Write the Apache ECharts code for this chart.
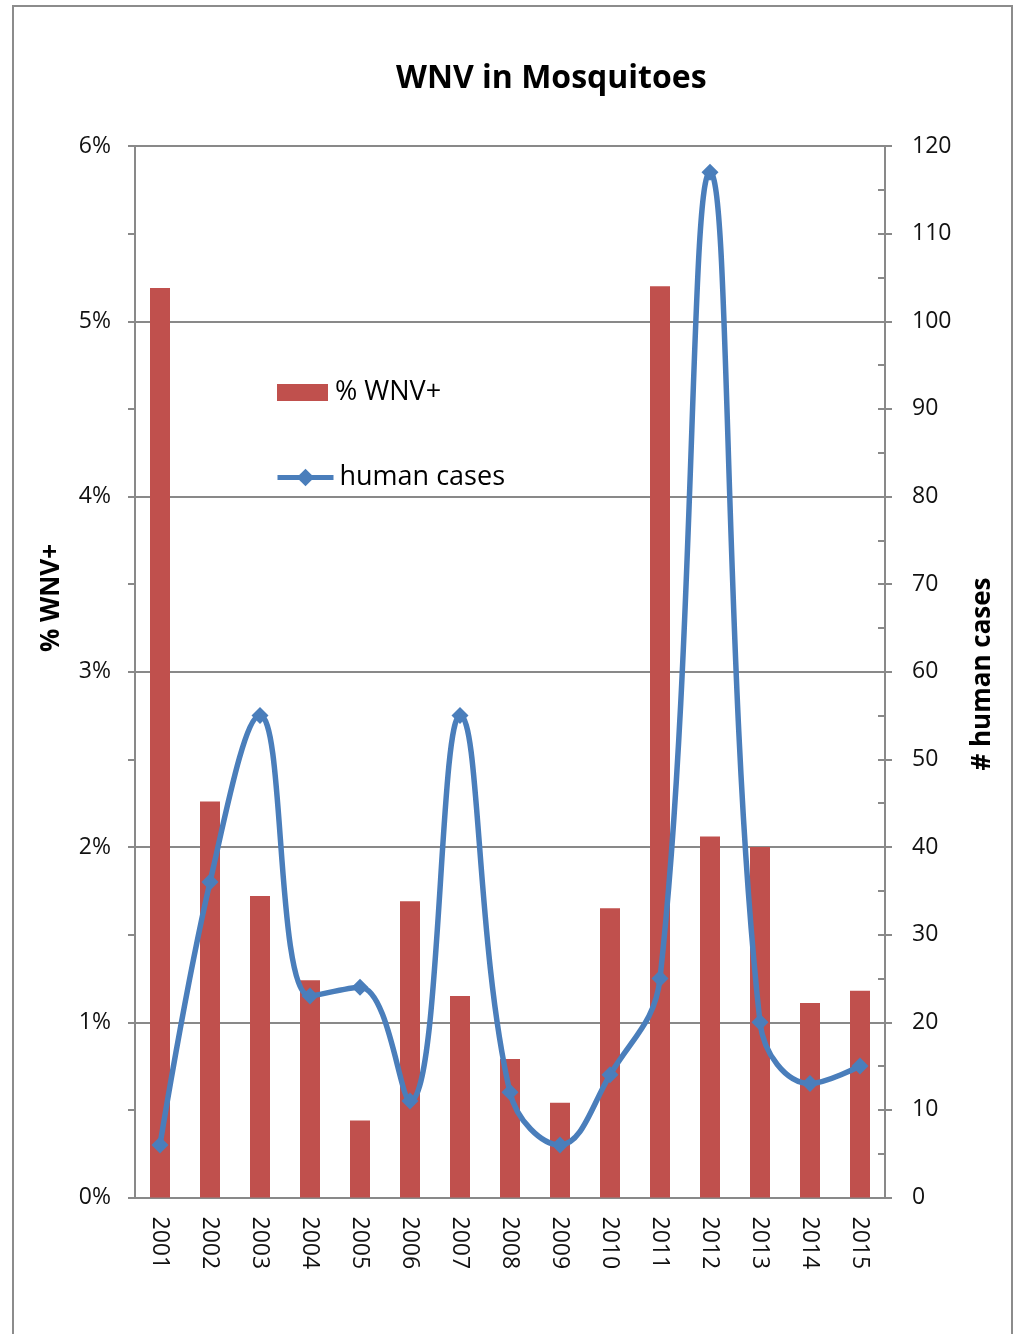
<!DOCTYPE html>
<html>
<head>
<meta charset="utf-8">
<title>WNV in Mosquitoes</title>
<script src="https://cdn.jsdelivr.net/npm/echarts@6/dist/echarts.min.js"></script>
<style>
  html, body { margin: 0; padding: 0; background: #ffffff; }
  #chart { width: 1019px; height: 1334px; }
</style>
</head>
<body>
<div id="chart"></div>
<script>
// Seasonal West Nile virus surveillance, 2001-2015
const years = ['2001', '2002', '2003', '2004', '2005', '2006', '2007', '2008',
               '2009', '2010', '2011', '2012', '2013', '2014', '2015'];
// Percent of mosquito pools testing positive
const pctPositive = [5.19, 2.26, 1.72, 1.24, 0.44, 1.69, 1.15, 0.79,
                     0.54, 1.65, 5.20, 2.06, 2.00, 1.11, 1.18];
// Reported human cases
const humanCases = [6, 36, 55, 23, 24, 11, 55, 12, 6, 14, 25, 117, 20, 13, 15];
// Axis ranges
const pctTicks = [0, 1, 2, 3, 4, 5, 6];
const caseTicks = [0, 10, 20, 30, 40, 50, 60, 70, 80, 90, 100, 110, 120];

const FONT = '"Open Sans", "Liberation Sans", sans-serif';
const AXIS_GRAY = '#898989';
const BAR_RED = '#c0504d';
const LINE_BLUE = '#4a7ebb';

const chart = echarts.init(document.getElementById('chart'), null, { renderer: 'canvas' });

chart.setOption({
  animation: false,
  backgroundColor: '#ffffff',
  textStyle: { fontFamily: FONT },
  title: {
    text: 'WNV in Mosquitoes',
    left: 396,
    top: 63,
    padding: 0,
    textStyle: { fontFamily: FONT, fontSize: 32, fontWeight: 'bold', color: '#000000' }
  },
  legend: [
    {
      data: [{ name: '% WNV+', icon: 'rect' }],
      orient: 'vertical',
      left: 277,
      top: 379,
      padding: 0,
      itemWidth: 51,
      itemHeight: 17,
      itemGap: 0,
      textStyle: { fontFamily: FONT, fontSize: 27, color: '#000000', padding: [0, 0, 0, 2] }
    },
    {
      data: ['human cases'],
      orient: 'vertical',
      left: 275,
      top: 464,
      padding: 0,
      itemWidth: 56,
      itemHeight: 22,
      itemGap: 0,
      lineStyle: { width: 5 },
      textStyle: { fontFamily: FONT, fontSize: 27, color: '#000000', padding: [0, 0, 0, 1] }
    }
  ],
  grid: { left: 135, right: 134, top: 146, bottom: 136.5, containLabel: false },
  xAxis: {
    type: 'category',
    data: years,
    axisLine: { show: true, lineStyle: { color: AXIS_GRAY, width: 2 } },
    axisTick: { show: false },
    axisLabel: { rotate: -90, margin: 19, fontFamily: FONT, fontSize: 23, color: '#111111' },
    splitLine: { show: false }
  },
  yAxis: [
    {
      type: 'value',
      position: 'left',
      min: pctTicks[0],
      max: pctTicks[pctTicks.length - 1],
      interval: 1,
      axisLine: { show: true, lineStyle: { color: AXIS_GRAY, width: 2 } },
      axisTick: { show: true, inside: false, length: 7, lineStyle: { color: AXIS_GRAY, width: 2 } },
      minorTick: { show: true, splitNumber: 2, length: 7, lineStyle: { color: AXIS_GRAY, width: 2 } },
      axisLabel: { margin: 24, fontFamily: FONT, fontSize: 23, color: '#111111', formatter: '{value}%' },
      splitLine: { show: true, lineStyle: { color: AXIS_GRAY, width: 2 } }
    },
    {
      type: 'value',
      position: 'right',
      min: caseTicks[0],
      max: caseTicks[caseTicks.length - 1],
      interval: 10,
      axisLine: { show: true, lineStyle: { color: AXIS_GRAY, width: 2 } },
      axisTick: { show: true, inside: false, length: 7, lineStyle: { color: AXIS_GRAY, width: 2 } },
      axisLabel: { margin: 27, fontFamily: FONT, fontSize: 23, color: '#111111' },
      splitLine: { show: false }
    },
    {
      // inner tick marks of the case axis (every 5)
      type: 'value',
      position: 'right',
      min: caseTicks[0],
      max: caseTicks[caseTicks.length - 1],
      interval: 5,
      axisLine: { show: false },
      axisTick: { show: true, inside: true, length: 7, lineStyle: { color: AXIS_GRAY, width: 2 } },
      axisLabel: { show: false },
      splitLine: { show: false }
    }
  ],
  series: [
    {
      name: '% WNV+',
      type: 'bar',
      yAxisIndex: 0,
      data: pctPositive,
      barWidth: 20,
      itemStyle: { color: BAR_RED },
      z: 2
    },
    {
      name: 'human cases',
      type: 'line',
      yAxisIndex: 1,
      data: humanCases,
      smooth: 0.4,
      symbol: 'diamond',
      symbolSize: 17,
      lineStyle: { color: LINE_BLUE, width: 5.5 },
      itemStyle: { color: LINE_BLUE },
      z: 3
    }
  ],
  graphic: [
    {
      type: 'rect',
      shape: { x: 13, y: 6, width: 999, height: 1340 },
      style: { fill: null, stroke: '#8c8c8c', lineWidth: 2 },
      silent: true,
      z: -1
    },
    {
      type: 'text',
      x: 52,
      y: 598,
      rotation: Math.PI / 2,
      style: {
        text: '% WNV+',
        fontFamily: FONT,
        fontSize: 26,
        fontWeight: 'bold',
        fill: '#000000',
        align: 'center',
        verticalAlign: 'middle'
      }
    },
    {
      type: 'text',
      x: 983,
      y: 674,
      rotation: Math.PI / 2,
      style: {
        text: '# human cases',
        fontFamily: FONT,
        fontSize: 26,
        fontWeight: 'bold',
        fill: '#000000',
        align: 'center',
        verticalAlign: 'middle'
      }
    }
  ]
});
</script>
</body>
</html>
